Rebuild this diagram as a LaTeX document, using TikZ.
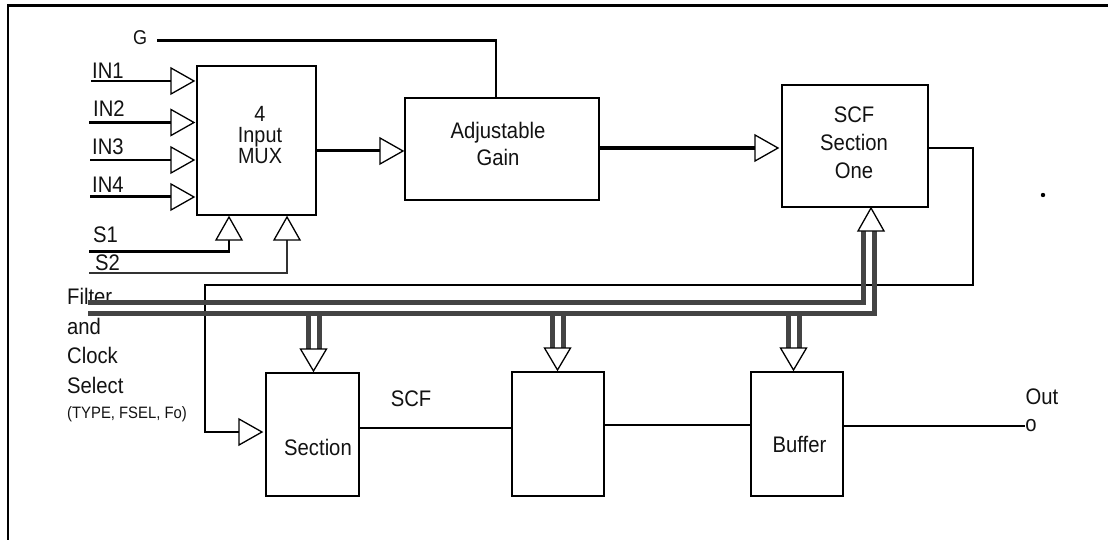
\documentclass[tikz,border=0pt]{standalone}
\usepackage{fontspec}
\setmainfont[FakeStretch=0.9]{Liberation Sans}
\definecolor{busgray}{HTML}{444444}
\newcommand{\rtri}[3]{%
  \coordinate (#1) at (#2,#3);
  \coordinate (#1b) at (#2-23,#3);
  \draw[tri] (#1) -- ++(-23,-13) -- ++(0,26) -- cycle;}
\newcommand{\utri}[3]{%
  \coordinate (#1) at (#2,#3);
  \coordinate (#1b) at (#2,#3+23);
  \draw[tri] (#1) -- ++(-13,23) -- ++(26,0) -- cycle;}
\newcommand{\dtri}[3]{%
  \coordinate (#1) at (#2,#3);
  \coordinate (#1b) at (#2,#3-22);
  \coordinate (#1l) at (#2-5.5,#3-22);
  \coordinate (#1r) at (#2+5.5,#3-22);
  \draw[tri] (#1) -- ++(-13,-22) -- ++(26,0) -- cycle;}
\begin{document}
\begin{tikzpicture}[x=1pt,y=-1pt,
  box/.style={draw, line width=2.6pt, inner sep=0pt},
  wire/.style={line width=2.6pt, line join=miter},
  thinwire/.style={line width=2.2pt, line join=miter},
  tri/.style={draw, line width=1.3pt, fill=white, line join=miter},
  bus/.style={draw=busgray, line width=5pt, line join=miter},
  lbl/.style={font=\fontsize{22.5}{26}\selectfont, inner sep=0pt, text=black!93},
  small/.style={font=\fontsize{16.5}{19}\selectfont, inner sep=0pt, text=black!93}]
\useasboundingbox (0,0) rectangle (1108,540);
% frame
\draw[line width=2.6pt] (8,545) -- (8,5.5) -- (1112,5.5);

% boxes
\node[box, minimum width=119pt, minimum height=149pt] (mux) at (256.5,140.5) {};
\node[box, minimum width=194pt, minimum height=102pt] (adj) at (502,149) {};
\node[box, minimum width=146pt, minimum height=122pt] (scf1) at (855,146) {};
\node[box, minimum width=93pt, minimum height=123pt] (sec) at (312.5,434.5) {};
\node[box, minimum width=92pt, minimum height=124pt] (mid) at (558,434) {};
\node[box, minimum width=92pt, minimum height=124pt] (buf) at (797,434) {};

% box texts
\node[lbl, align=center, font=\fontsize{22}{21}\selectfont] (muxt) at (260,135) {4\\Input\\MUX};
\node[lbl, align=center, font=\fontsize{22.5}{27}\selectfont] (adjt) at (498,143.5) {Adjustable\\Gain};
\node[lbl, align=center, font=\fontsize{22.5}{28}\selectfont] (scft) at (854,143) {SCF\\Section\\One};
\node[lbl] (sect) at (318,447.5) {Section};
\node[lbl] (buft) at (799.5,444) {Buffer};
\node[lbl] (scfl) at (411,398.5) {SCF};

% free labels
\node[lbl, font=\fontsize{20}{22}\selectfont] (g) at (140,38) {G};
\node[lbl, anchor=base west] (lin1) at (92,79) {IN1};
\node[lbl, anchor=base west] (lin2) at (93,117) {IN2};
\node[lbl, anchor=base west] (lin3) at (92,155) {IN3};
\node[lbl, anchor=base west] (lin4) at (92,193) {IN4};
\node[lbl, anchor=base west] (ls1) at (93,242) {S1};
\node[lbl, anchor=base west] (ls2) at (95,270) {S2};
\node[lbl, anchor=west] (f1) at (67,296) {Filter};
\node[lbl, anchor=west] (f2) at (67,326) {and};
\node[lbl, anchor=west] (f3) at (67,355) {Clock};
\node[lbl, anchor=west] (f4) at (67,385) {Select};
\node[small, anchor=west] (f5) at (67,414) {(TYPE, FSEL, Fo)};
\node[lbl] (outl) at (1042,397) {Out};
\node[lbl] (out) at (1031,426) {o};
\fill (1043,195) circle (2.2pt);

% coordinates for free wire ends
\coordinate (in1) at (91,81);
\coordinate (in2) at (89,122.5);
\coordinate (in3) at (90,160);
\coordinate (in4) at (90,196.5);
\coordinate (s1) at (89,251.5);
\coordinate (s2) at (89,273);
\coordinate (gl) at (157,40.5);
\coordinate (fb1) at (973,285);
\coordinate (fb2) at (205,285);
\coordinate (busA) at (88,302);
\coordinate (busB) at (88,313);

% input wires
\draw[wire] (in1) -- (194-23,81);
\draw[thinwire] (in2) -- (194-23,122.5);
\draw[thinwire] (in3) -- (194-23,160);
\draw[thinwire] (in4) -- (194-23,196.5);
\draw[thinwire] (s1) -| (229,240);
\draw[thinwire, draw=black!80] (s2) -| (287,240);
\draw[wire] (gl) -| ([xshift=-6pt]adj.north);
\draw[wire] (mux.east |- 0,150.5) -- (380,150.5);
\draw[wire, line width=4.3pt] (adj.east |- 0,148) -- (755,148);

% feedback
\draw[wire, line width=2.4pt] ([yshift=-2pt]scf1.east) -| (fb1) -- (fb2) |- (239,432);

% chain
\draw[wire, line width=2.4pt] (sec.east |- 0,428) -- (mid.west |- 0,428);
\draw[wire, line width=2.4pt] (mid.east |- 0,425) -- (buf.west |- 0,425);
\draw[wire, line width=2.2pt] (buf.east |- out) -- (out.west);

% bus
\draw[bus] (busA) -| (863.5,231);
\draw[bus] (busB) -| (874,231);
\foreach \c in {308,319.5,552.5,563,788,799}{
  \draw[bus] (\c,313) -- (\c,349);
}

% triangles
\rtri{t1}{194}{81}
\rtri{t2}{194}{122.5}
\rtri{t3}{194}{160}
\rtri{t4}{194}{197}
\rtri{tm}{403}{151}
\rtri{ta}{778}{148}
\rtri{ts}{262}{432}
\utri{s1t}{229}{217}
\utri{s2t}{287}{217}
\utri{sct}{871}{208}
\dtri{d1}{313.5}{371}
\dtri{d2}{557.5}{370}
\dtri{d3}{793.5}{370}
\end{tikzpicture}
\end{document}
